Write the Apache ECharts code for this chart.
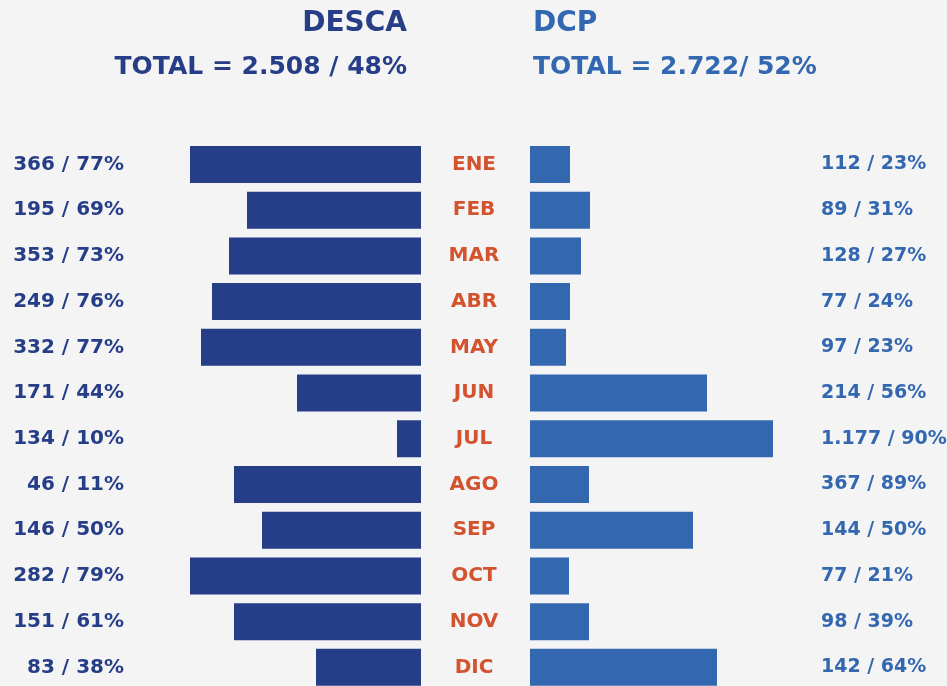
<!DOCTYPE html>
<html>
<head>
<meta charset="utf-8">
<script src="https://cdn.jsdelivr.net/npm/echarts@6/dist/echarts.min.js"></script>
<style>
  html, body { margin: 0; padding: 0; background: #f4f4f4; }
  #chart { width: 947px; height: 686px; }
</style>
</head>
<body>
<div id="chart"></div>
<script>
// meses (eje central)
const months = ['ENE', 'FEB', 'MAR', 'ABR', 'MAY', 'JUN', 'JUL', 'AGO', 'SEP', 'OCT', 'NOV', 'DIC'];

// DESCA: textos de cada fila y largo de barra
const descaCount = [366, 195, 353, 249, 332, 171, 134, 46, 146, 282, 151, 83];
const descaPct = [77, 69, 73, 76, 77, 44, 10, 11, 50, 79, 61, 38];
const descaBar = [231, 174, 192, 209, 220, 124, 24, 187, 159, 231, 187, 105];

// DCP
const dcpCount = [112, 89, 128, 77, 97, 214, 1177, 367, 144, 77, 98, 142];
const dcpPct = [23, 31, 27, 24, 23, 56, 90, 89, 50, 21, 39, 64];
const dcpBar = [40, 60, 51, 40, 36, 177, 243, 59, 163, 39, 59, 187];

const titleLeft = 'DESCA';
const totalLeft = 'TOTAL = 2.508 / 48%';
const titleRight = 'DCP';
const totalRight = 'TOTAL = 2.722/ 52%';

const NAVY = '#263d87';
const BLUE = '#3368b1';
const ORANGE = '#d3532f';
const FONT = 'DejaVu Sans';

// separador de miles con punto
function fmt(n) {
  return String(n).replace(/\B(?=(\d{3})+(?!\d))/g, '.');
}

const chart = echarts.init(document.getElementById('chart'), null, { renderer: 'canvas' });

const gridTop = 141.6;
const gridHeight = 548.6;

function titleStyle(color, size) {
  return { color: color, fontFamily: FONT, fontWeight: 'bold', fontSize: size };
}

const option = {
  backgroundColor: '#f4f4f4',
  animation: false,
  title: [
    { text: titleLeft, right: 540, top: 10, padding: 0, textStyle: titleStyle(NAVY, 28) },
    { text: totalLeft, right: 540, top: 55, padding: 0, textStyle: titleStyle(NAVY, 25) },
    { text: titleRight, left: 533, top: 10, padding: 0, textStyle: titleStyle(BLUE, 28) },
    { text: totalRight, left: 533, top: 55, padding: 0, textStyle: titleStyle(BLUE, 25) }
  ],
  grid: [
    { left: 171, width: 250, top: gridTop, height: gridHeight, outerBoundsMode: 'none' },
    { left: 530, width: 250, top: gridTop, height: gridHeight, outerBoundsMode: 'none' }
  ],
  xAxis: [
    { type: 'value', gridIndex: 0, min: 0, max: 250, inverse: true, show: false },
    { type: 'value', gridIndex: 1, min: 0, max: 250, show: false }
  ],
  yAxis: [
    {
      type: 'category', gridIndex: 0, data: months, inverse: true, position: 'left',
      axisLine: { show: false }, axisTick: { show: false }, splitLine: { show: false },
      axisLabel: {
        interval: 0, margin: 47, align: 'right',
        color: NAVY, fontFamily: FONT, fontWeight: 'bold', fontSize: 20,
        formatter: (v, i) => fmt(descaCount[i]) + ' / ' + descaPct[i] + '%'
      }
    },
    {
      type: 'category', gridIndex: 0, data: months, inverse: true, position: 'right',
      axisLine: { show: false }, axisTick: { show: false }, splitLine: { show: false },
      axisLabel: {
        interval: 0, margin: 53, align: 'center',
        color: ORANGE, fontFamily: FONT, fontWeight: 'bold', fontSize: 20
      }
    },
    {
      type: 'category', gridIndex: 1, data: months, inverse: true, position: 'right',
      axisLine: { show: false }, axisTick: { show: false }, splitLine: { show: false },
      axisLabel: {
        interval: 0, margin: 41, align: 'left',
        color: BLUE, fontFamily: FONT, fontWeight: 'bold', fontSize: 19,
        formatter: (v, i) => fmt(dcpCount[i]) + ' / ' + dcpPct[i] + '%'
      }
    }
  ],
  series: [
    {
      name: 'DESCA', type: 'bar', xAxisIndex: 0, yAxisIndex: 0,
      data: descaBar, barWidth: 37,
      itemStyle: { color: NAVY }
    },
    {
      name: 'DCP', type: 'bar', xAxisIndex: 1, yAxisIndex: 2,
      data: dcpBar, barWidth: 37,
      itemStyle: { color: BLUE }
    }
  ]
};

chart.setOption(option);
</script>
</body>
</html>
